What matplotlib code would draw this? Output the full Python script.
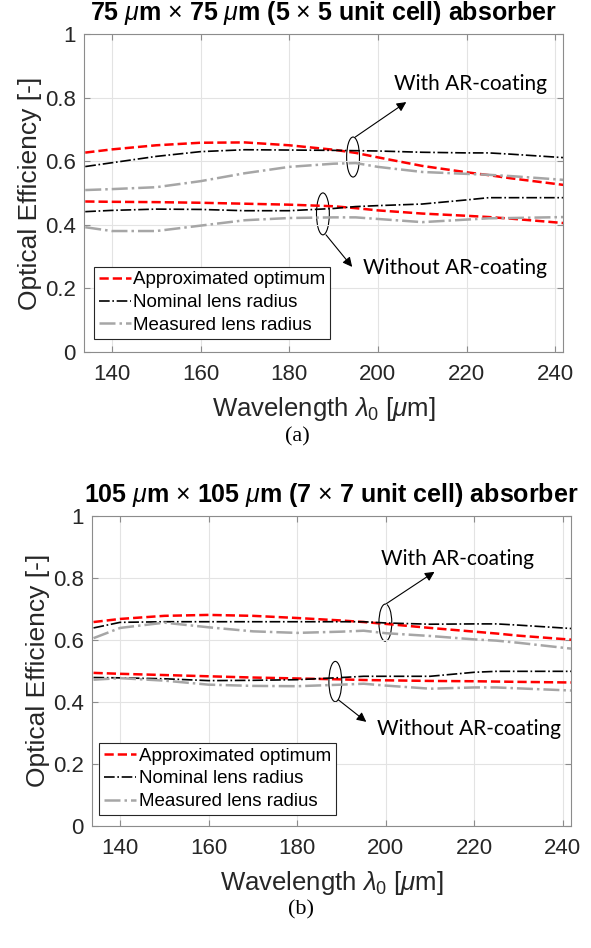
import matplotlib
matplotlib.use('Agg')
import matplotlib.pyplot as plt
from matplotlib.patches import Ellipse

plt.rcParams['font.family'] = ['Liberation Sans', 'DejaVu Sans']
plt.rcParams['mathtext.fontset'] = 'custom'
plt.rcParams['mathtext.rm'] = 'Liberation Sans'
plt.rcParams['mathtext.it'] = 'Liberation Sans:italic'
plt.rcParams['mathtext.bf'] = 'Liberation Sans:bold'

# wavelength grid [um]
wavelength = [134, 140, 150, 160, 170, 180, 190, 195, 200, 210, 220, 225, 230, 242]

# (a) 5 x 5 unit cell
a_opt_ar = [0.627, 0.637, 0.650, 0.658, 0.659, 0.650, 0.636, 0.626, 0.612, 0.585, 0.565, 0.556, 0.546, 0.525]
a_nom_ar = [0.583, 0.595, 0.615, 0.630, 0.636, 0.635, 0.634, 0.633, 0.632, 0.628, 0.626, 0.626, 0.622, 0.611]
a_meas_ar = [0.509, 0.512, 0.518, 0.537, 0.562, 0.582, 0.592, 0.594, 0.582, 0.566, 0.560, 0.557, 0.553, 0.541]
a_opt = [0.473, 0.472, 0.471, 0.469, 0.466, 0.463, 0.458, 0.452, 0.445, 0.435, 0.428, 0.424, 0.419, 0.405]
a_nom = [0.441, 0.445, 0.449, 0.448, 0.444, 0.444, 0.451, 0.457, 0.460, 0.465, 0.478, 0.485, 0.485, 0.485]
a_meas = [0.392, 0.380, 0.380, 0.397, 0.414, 0.421, 0.423, 0.423, 0.418, 0.408, 0.416, 0.420, 0.421, 0.424]

# (b) 7 x 7 unit cell
b_opt_ar = [0.657, 0.667, 0.677, 0.680, 0.677, 0.670, 0.662, 0.657, 0.651, 0.638, 0.626, 0.620, 0.613, 0.600]
b_nom_ar = [0.638, 0.656, 0.658, 0.658, 0.658, 0.658, 0.658, 0.658, 0.654, 0.650, 0.651, 0.651, 0.647, 0.636]
b_meas_ar = [0.605, 0.638, 0.655, 0.640, 0.627, 0.622, 0.626, 0.629, 0.621, 0.612, 0.601, 0.597, 0.590, 0.571]
b_opt = [0.493, 0.490, 0.486, 0.482, 0.478, 0.475, 0.472, 0.470, 0.469, 0.467, 0.466, 0.465, 0.464, 0.462]
b_nom = [0.478, 0.477, 0.474, 0.468, 0.469, 0.471, 0.478, 0.482, 0.482, 0.482, 0.495, 0.498, 0.498, 0.498]
b_meas = [0.471, 0.476, 0.468, 0.455, 0.451, 0.450, 0.455, 0.458, 0.452, 0.442, 0.446, 0.446, 0.443, 0.436]

labels = ['Approximated optimum', 'Nominal lens radius', 'Measured lens radius']
ann_font = ['Lato', 'DejaVu Sans']


def draw_panel(ax, opt_ar, nom_ar, meas_ar, opt, nom, meas, title,
               ell_ar, ell_no, arr_ar, arr_no, txt_ar, txt_no, leg_anchor):
    l1, = ax.plot(wavelength, opt_ar, '--', color='red', lw=1.8)
    l2, = ax.plot(wavelength, nom_ar, '-.', color='black', lw=1.2)
    l3, = ax.plot(wavelength, meas_ar, '-.', color='#a6a6a6', lw=1.8)
    ax.plot(wavelength, opt, '--', color='red', lw=1.8)
    ax.plot(wavelength, nom, '-.', color='black', lw=1.2)
    ax.plot(wavelength, meas, '-.', color='#a6a6a6', lw=1.8)

    ax.set_xlim(133.7, 241.8)
    ax.set_ylim(0, 1)
    ax.set_xticks([140, 160, 180, 200, 220, 240])
    ax.set_yticks([0, 0.2, 0.4, 0.6, 0.8, 1])
    ax.set_yticklabels(['0', '0.2', '0.4', '0.6', '0.8', '1'])
    ax.tick_params(direction='in', top=True, right=True, length=4,
                   labelsize=16, color='#8c8c8c', labelcolor='#262626')
    ax.tick_params(axis='x', pad=9)
    ax.tick_params(axis='y', pad=6)
    ax.grid(True, color='#e3e3e3', lw=0.8)
    for s in ax.spines.values():
        s.set_color('#8c8c8c')
        s.set_linewidth(0.8)
    ax.set_xlabel(r'Wavelength $\lambda_0$ [$\mu$m]', fontsize=18.5, labelpad=7,
                  color='#262626')
    ax.set_ylabel('Optical Efficiency [-]', fontsize=19, labelpad=2, color='#262626')
    ax.set_title(title, fontsize=18, fontweight='bold', pad=10)

    # ellipses marking the line groups
    ax.add_patch(Ellipse(ell_ar[:2], ell_ar[2], ell_ar[3], fill=False, lw=0.8, ec='black'))
    ax.add_patch(Ellipse(ell_no[:2], ell_no[2], ell_no[3], fill=False, lw=0.8, ec='black'))
    ax.annotate('', xy=arr_ar[2:], xytext=arr_ar[:2],
                arrowprops=dict(arrowstyle='-|>', color='black', lw=0.8,
                                mutation_scale=14, shrinkA=0, shrinkB=0))
    ax.annotate('', xy=arr_no[2:], xytext=arr_no[:2],
                arrowprops=dict(arrowstyle='-|>', color='black', lw=0.8,
                                mutation_scale=14, shrinkA=0, shrinkB=0))
    ax.text(txt_ar[0], txt_ar[1], 'With AR-coating', ha='center', va='center',
            fontsize=15, family=ann_font)
    ax.text(txt_no[0], txt_no[1], 'Without AR-coating', ha='center', va='center',
            fontsize=15, family=ann_font)

    leg = ax.legend([l1, l2, l3], labels, loc='lower left', bbox_to_anchor=leg_anchor,
                    borderaxespad=0, fancybox=False, edgecolor='#262626', framealpha=1,
                    fontsize=13.5, handlelength=1.7, handletextpad=0.15,
                    labelspacing=0.3, borderpad=0.25)
    leg.get_frame().set_linewidth(0.8)


fig = plt.figure(figsize=(5.91, 9.48), dpi=100)
ax1 = fig.add_axes([0.142, 0.629, 0.811, 0.335])
ax2 = fig.add_axes([0.156, 0.129, 0.810, 0.327])

draw_panel(ax1, a_opt_ar, a_nom_ar, a_meas_ar, a_opt, a_nom, a_meas,
           r'75 $\mu$m $\times$ 75 $\mu$m (5 $\times$ 5 unit cell) absorber',
           (194.4, 0.613, 2.9, 0.126), (187.6, 0.434, 2.9, 0.132),
           (194.9, 0.676, 206.4, 0.786), (188.3, 0.368, 194.2, 0.267),
           (221.0, 0.843), (217.4, 0.264), (0.021, 0.041))

draw_panel(ax2, b_opt_ar, b_nom_ar, b_meas_ar, b_opt, b_nom, b_meas,
           r'105 $\mu$m $\times$ 105 $\mu$m (7 $\times$ 7 unit cell) absorber',
           (199.9, 0.655, 2.9, 0.12), (188.6, 0.465, 2.9, 0.13),
           (200.1, 0.716, 211.0, 0.819), (189.3, 0.406, 195.6, 0.335),
           (216.2, 0.861), (218.9, 0.313), (0.015, 0.035))

fig.text(297 / 591, 1 - 437 / 948, '(a)', ha='center', va='center',
         fontsize=16, family=['Liberation Serif', 'DejaVu Serif'])
fig.text(301 / 591, 1 - 910 / 948, '(b)', ha='center', va='center',
         fontsize=16, family=['Liberation Serif', 'DejaVu Serif'])

fig.savefig('out.png', dpi=100)
